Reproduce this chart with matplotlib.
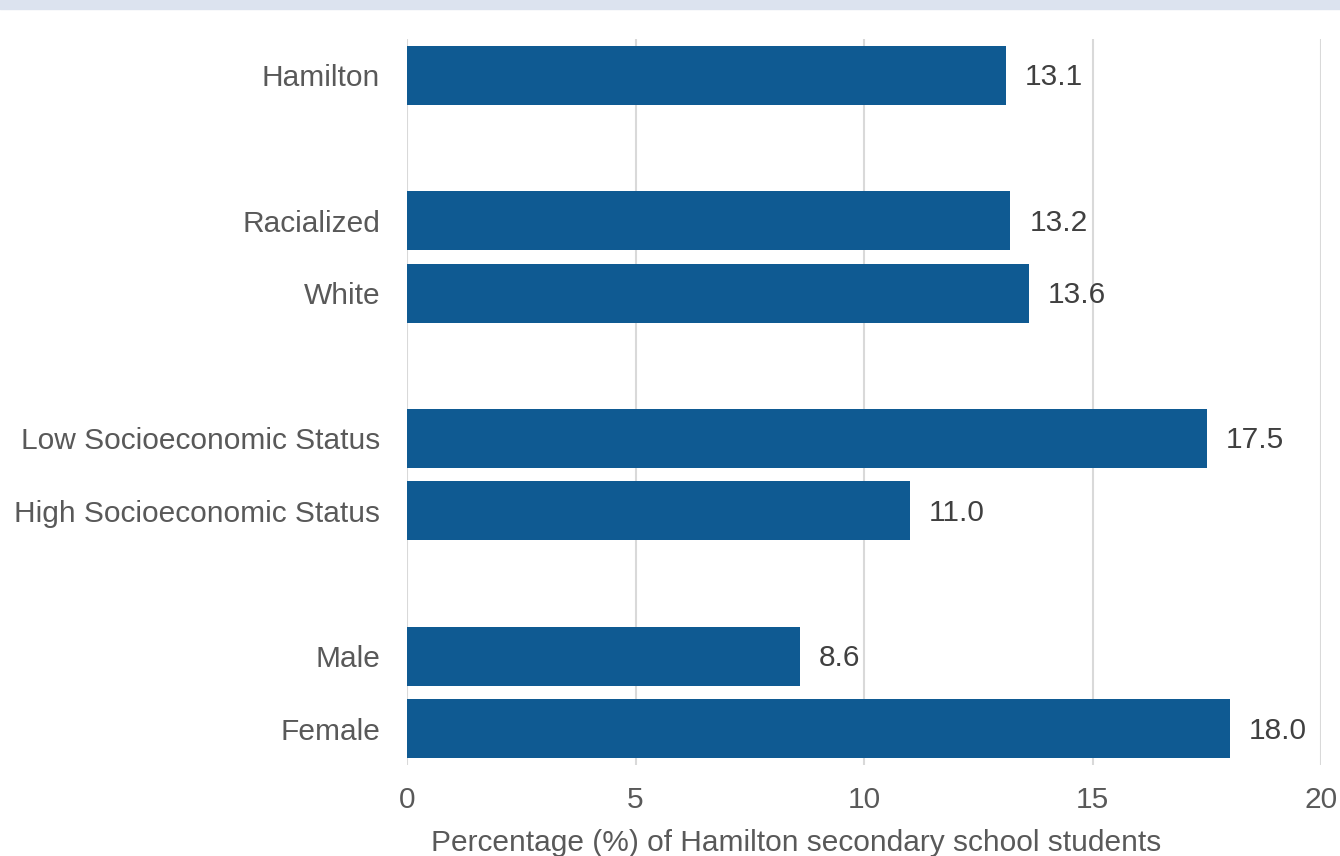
import matplotlib
matplotlib.use("Agg")
import matplotlib.pyplot as plt
from matplotlib.patches import Rectangle

categories = ["Hamilton", "Racialized", "White", "Low Socioeconomic Status",
              "High Socioeconomic Status", "Male", "Female"]
values = [13.1, 13.2, 13.6, 17.5, 11.0, 8.6, 18.0]
positions = [0, 2, 3, 5, 6, 8, 9]
xticks = [0, 5, 10, 15, 20]
xlabel = "Percentage (%) of Hamilton secondary school students"

plt.rcParams['font.family'] = ['Liberation Sans', 'DejaVu Sans']
W, H = 1340, 856
FS = 21.5
fig = plt.figure(figsize=(W / 100, H / 100), dpi=100)
fig.patches.append(Rectangle((0, 1 - 9 / H), 1, 9 / H, transform=fig.transFigure,
                             color="#DCE3EF", zorder=0))

ax = fig.add_axes([407 / W, 1 - 765 / H, (1321 - 407) / W, (765 - 39) / H])
bar_color = "#0F5A92"
value_color = "#404040"
axis_color = "#595959"
ax.barh(positions, values, height=0.81, color=bar_color, zorder=3)
for p, v in zip(positions, values):
    ax.text(v + 0.42, p + 0.03, f"{v:.1f}", va="center", ha="left", fontsize=FS,
            color=value_color)

ax.set_xlim(0, 20)
ax.set_ylim(9.5, -0.5)
ax.set_xticks(xticks)
ax.set_xticklabels([str(t) for t in xticks], fontsize=FS, color=axis_color)
ax.set_yticks(positions)
ax.set_yticklabels(categories, fontsize=FS, color=axis_color)
ax.tick_params(axis="both", length=0)
ax.tick_params(axis="y", pad=19.4)
ax.tick_params(axis="x", pad=15)
ax.grid(axis="x", color="#D9D9D9", linewidth=1.5, zorder=0)
for s in ax.spines.values():
    s.set_visible(False)
fig.text(796 / W, 1 - 851 / H, xlabel, ha="center", va="baseline",
         fontsize=FS, color=axis_color)

fig.savefig("out.png", dpi=100)
